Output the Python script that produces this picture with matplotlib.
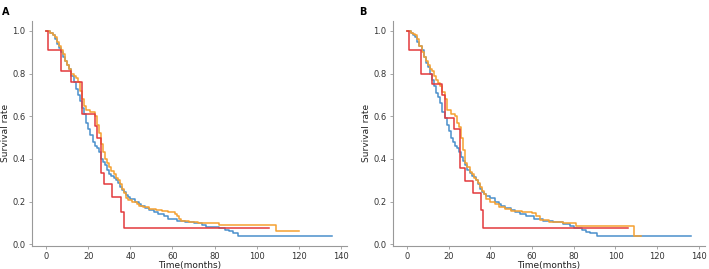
import matplotlib.pyplot as plt
import numpy as np

# 生存曲线 (Kaplan-Meier), 三组: 蓝 / 橙 / 红
# 每组: 时间点 + 该时间点之后的生存率 (step post)

# ---- A ----
a_blue_t = [0, 2, 3, 4, 5, 6, 7, 8, 9, 10, 11, 12, 13, 14, 15, 16, 17, 18, 19, 20,
            21, 22, 23, 24, 25, 26, 27, 28, 29, 30, 31, 32, 33, 34, 35, 36, 37, 38, 39, 40,
            42, 44, 45, 47, 49, 51, 53, 56, 58, 62, 66, 70, 74, 76, 82, 85, 87, 89, 91, 136]
a_blue_s = [1.00, 0.99, 0.98, 0.96, 0.94, 0.92, 0.90, 0.88, 0.86, 0.84, 0.82, 0.79, 0.76, 0.73, 0.70,
            0.67, 0.64, 0.61, 0.57, 0.54, 0.51, 0.48, 0.46, 0.45, 0.43, 0.40, 0.385, 0.37, 0.35, 0.33,
            0.32, 0.31, 0.30, 0.285, 0.27, 0.255, 0.245, 0.23, 0.22, 0.21, 0.20, 0.19, 0.18, 0.17, 0.16,
            0.15, 0.14, 0.13, 0.12, 0.11, 0.105, 0.10, 0.09, 0.08, 0.075, 0.065, 0.06, 0.05, 0.04, 0.04]

a_orange_t = [0, 2, 3, 4, 5, 6, 7, 8, 9, 10, 11, 12, 13, 14, 15, 16, 17, 18, 19, 21,
              23, 24, 25, 26, 27, 28, 29, 30, 31, 32, 33, 34, 35, 36, 37, 38, 39, 41, 43, 44,
              46, 49, 52, 55, 58, 61, 62, 63, 64, 68, 72, 82, 109, 120]
a_orange_s = [1.00, 0.99, 0.98, 0.97, 0.95, 0.93, 0.91, 0.89, 0.86, 0.84, 0.82, 0.80, 0.79, 0.78,
              0.76, 0.72, 0.68, 0.65, 0.63, 0.62, 0.60, 0.56, 0.52, 0.47, 0.43, 0.40, 0.38, 0.36,
              0.345, 0.33, 0.31, 0.30, 0.28, 0.26, 0.24, 0.215, 0.205, 0.20, 0.19, 0.18, 0.175,
              0.165, 0.16, 0.155, 0.15, 0.14, 0.13, 0.12, 0.11, 0.105, 0.10, 0.09, 0.06, 0.06]

a_red_t = [0, 1, 7, 12, 17, 23, 24, 26, 27.5, 31.5, 35.5, 37, 106]
a_red_s = [1.0, 0.91, 0.81, 0.76, 0.61, 0.555, 0.50, 0.335, 0.28, 0.22, 0.15, 0.075, 0.075]

# ---- B ----
b_blue_t = [0, 2, 3, 4, 5, 6, 7, 8, 9, 10, 11, 12, 13, 14, 15, 16, 17, 18, 19, 20,
            21, 22, 23, 24, 25, 26, 27, 28, 29, 30, 31, 32, 33, 34, 35, 36, 37, 38, 40, 42,
            44, 45, 47, 50, 52, 54, 57, 61, 65, 70, 75, 78, 80, 84, 86, 88, 91, 136]
b_blue_s = [1.00, 0.99, 0.98, 0.97, 0.95, 0.93, 0.91, 0.88, 0.85, 0.83, 0.80, 0.77, 0.74, 0.71, 0.69,
            0.66, 0.62, 0.59, 0.56, 0.53, 0.50, 0.48, 0.46, 0.45, 0.43, 0.41, 0.39, 0.37, 0.35, 0.335,
            0.32, 0.315, 0.30, 0.28, 0.26, 0.245, 0.235, 0.225, 0.215, 0.20, 0.19, 0.18, 0.17, 0.16,
            0.15, 0.14, 0.13, 0.12, 0.11, 0.105, 0.095, 0.085, 0.075, 0.065, 0.058, 0.05, 0.04, 0.04]

b_orange_t = [0, 2, 3, 4, 5, 6, 7, 8, 9, 10, 11, 12, 13, 14, 15, 16, 17, 18, 19, 21,
              23, 24, 25, 26, 27, 28, 29, 30, 31, 32, 33, 34, 35, 36, 37, 38, 40, 42, 44, 47,
              50, 55, 60, 62, 64, 68, 75, 81, 108.7, 112]
b_orange_s = [1.00, 0.99, 0.985, 0.98, 0.96, 0.93, 0.90, 0.88, 0.86, 0.84, 0.82, 0.81, 0.79, 0.77,
              0.755, 0.74, 0.715, 0.68, 0.63, 0.61, 0.60, 0.57, 0.55, 0.50, 0.44, 0.38, 0.36, 0.34,
              0.33, 0.31, 0.30, 0.285, 0.27, 0.25, 0.235, 0.21, 0.20, 0.19, 0.175, 0.165, 0.155,
              0.15, 0.145, 0.13, 0.113, 0.105, 0.097, 0.085, 0.038, 0.038]

b_red_t = [0, 0.8, 6.8, 12, 17, 18, 22.6, 25.5, 27.8, 31.9, 35.3, 36.6, 106]
b_red_s = [1.0, 0.91, 0.80, 0.75, 0.70, 0.59, 0.54, 0.355, 0.295, 0.238, 0.16, 0.078, 0.078]

x_ticks = [0, 20, 40, 60, 80, 100, 120, 140]
y_ticks = [0.0, 0.2, 0.4, 0.6, 0.8, 1.0]
panel_labels = ["A", "B"]

c_blue = "#4a8fcc"
c_orange = "#f5a030"
c_red = "#e3393c"

fig = plt.figure(figsize=(7.09, 2.69), dpi=100)
ax_a = fig.add_axes([0.045, 0.086, 0.444, 0.837])
ax_b = fig.add_axes([0.554, 0.086, 0.440, 0.837])

panels = [
    (ax_a, (a_blue_t, a_blue_s), (a_orange_t, a_orange_s), (a_red_t, a_red_s)),
    (ax_b, (b_blue_t, b_blue_s), (b_orange_t, b_orange_s), (b_red_t, b_red_s)),
]

for ax, blue, orange, red in panels:
    ax.step(blue[0], blue[1], where="post", color=c_blue, lw=1.1)
    ax.step(orange[0], orange[1], where="post", color=c_orange, lw=1.1)
    ax.step(red[0], red[1], where="post", color=c_red, lw=1.1)
    ax.set_xticks(x_ticks)
    ax.set_yticks(y_ticks)
    ax.set_xlim(-6.8, 142.8)
    ax.set_ylim(-0.008, 1.048)
    ax.spines["top"].set_visible(False)
    ax.spines["right"].set_visible(False)
    for s in ["left", "bottom"]:
        ax.spines[s].set_color("#999999")
        ax.spines[s].set_linewidth(0.8)
    ax.tick_params(labelsize=6, colors="#333333", length=2.5, width=0.6, pad=2)
    ax.tick_params(color="#999999")
    ax.set_xlabel("Time(months)", fontsize=6.5, labelpad=0, color="#222222")
    ax.set_ylabel("Survival rate", fontsize=6.5, labelpad=2, color="#222222")

fig.text(0.003, 0.975, panel_labels[0], fontsize=7, fontweight="bold", va="top")
fig.text(0.506, 0.975, panel_labels[1], fontsize=7, fontweight="bold", va="top")

fig.savefig("out.png", dpi=100)
